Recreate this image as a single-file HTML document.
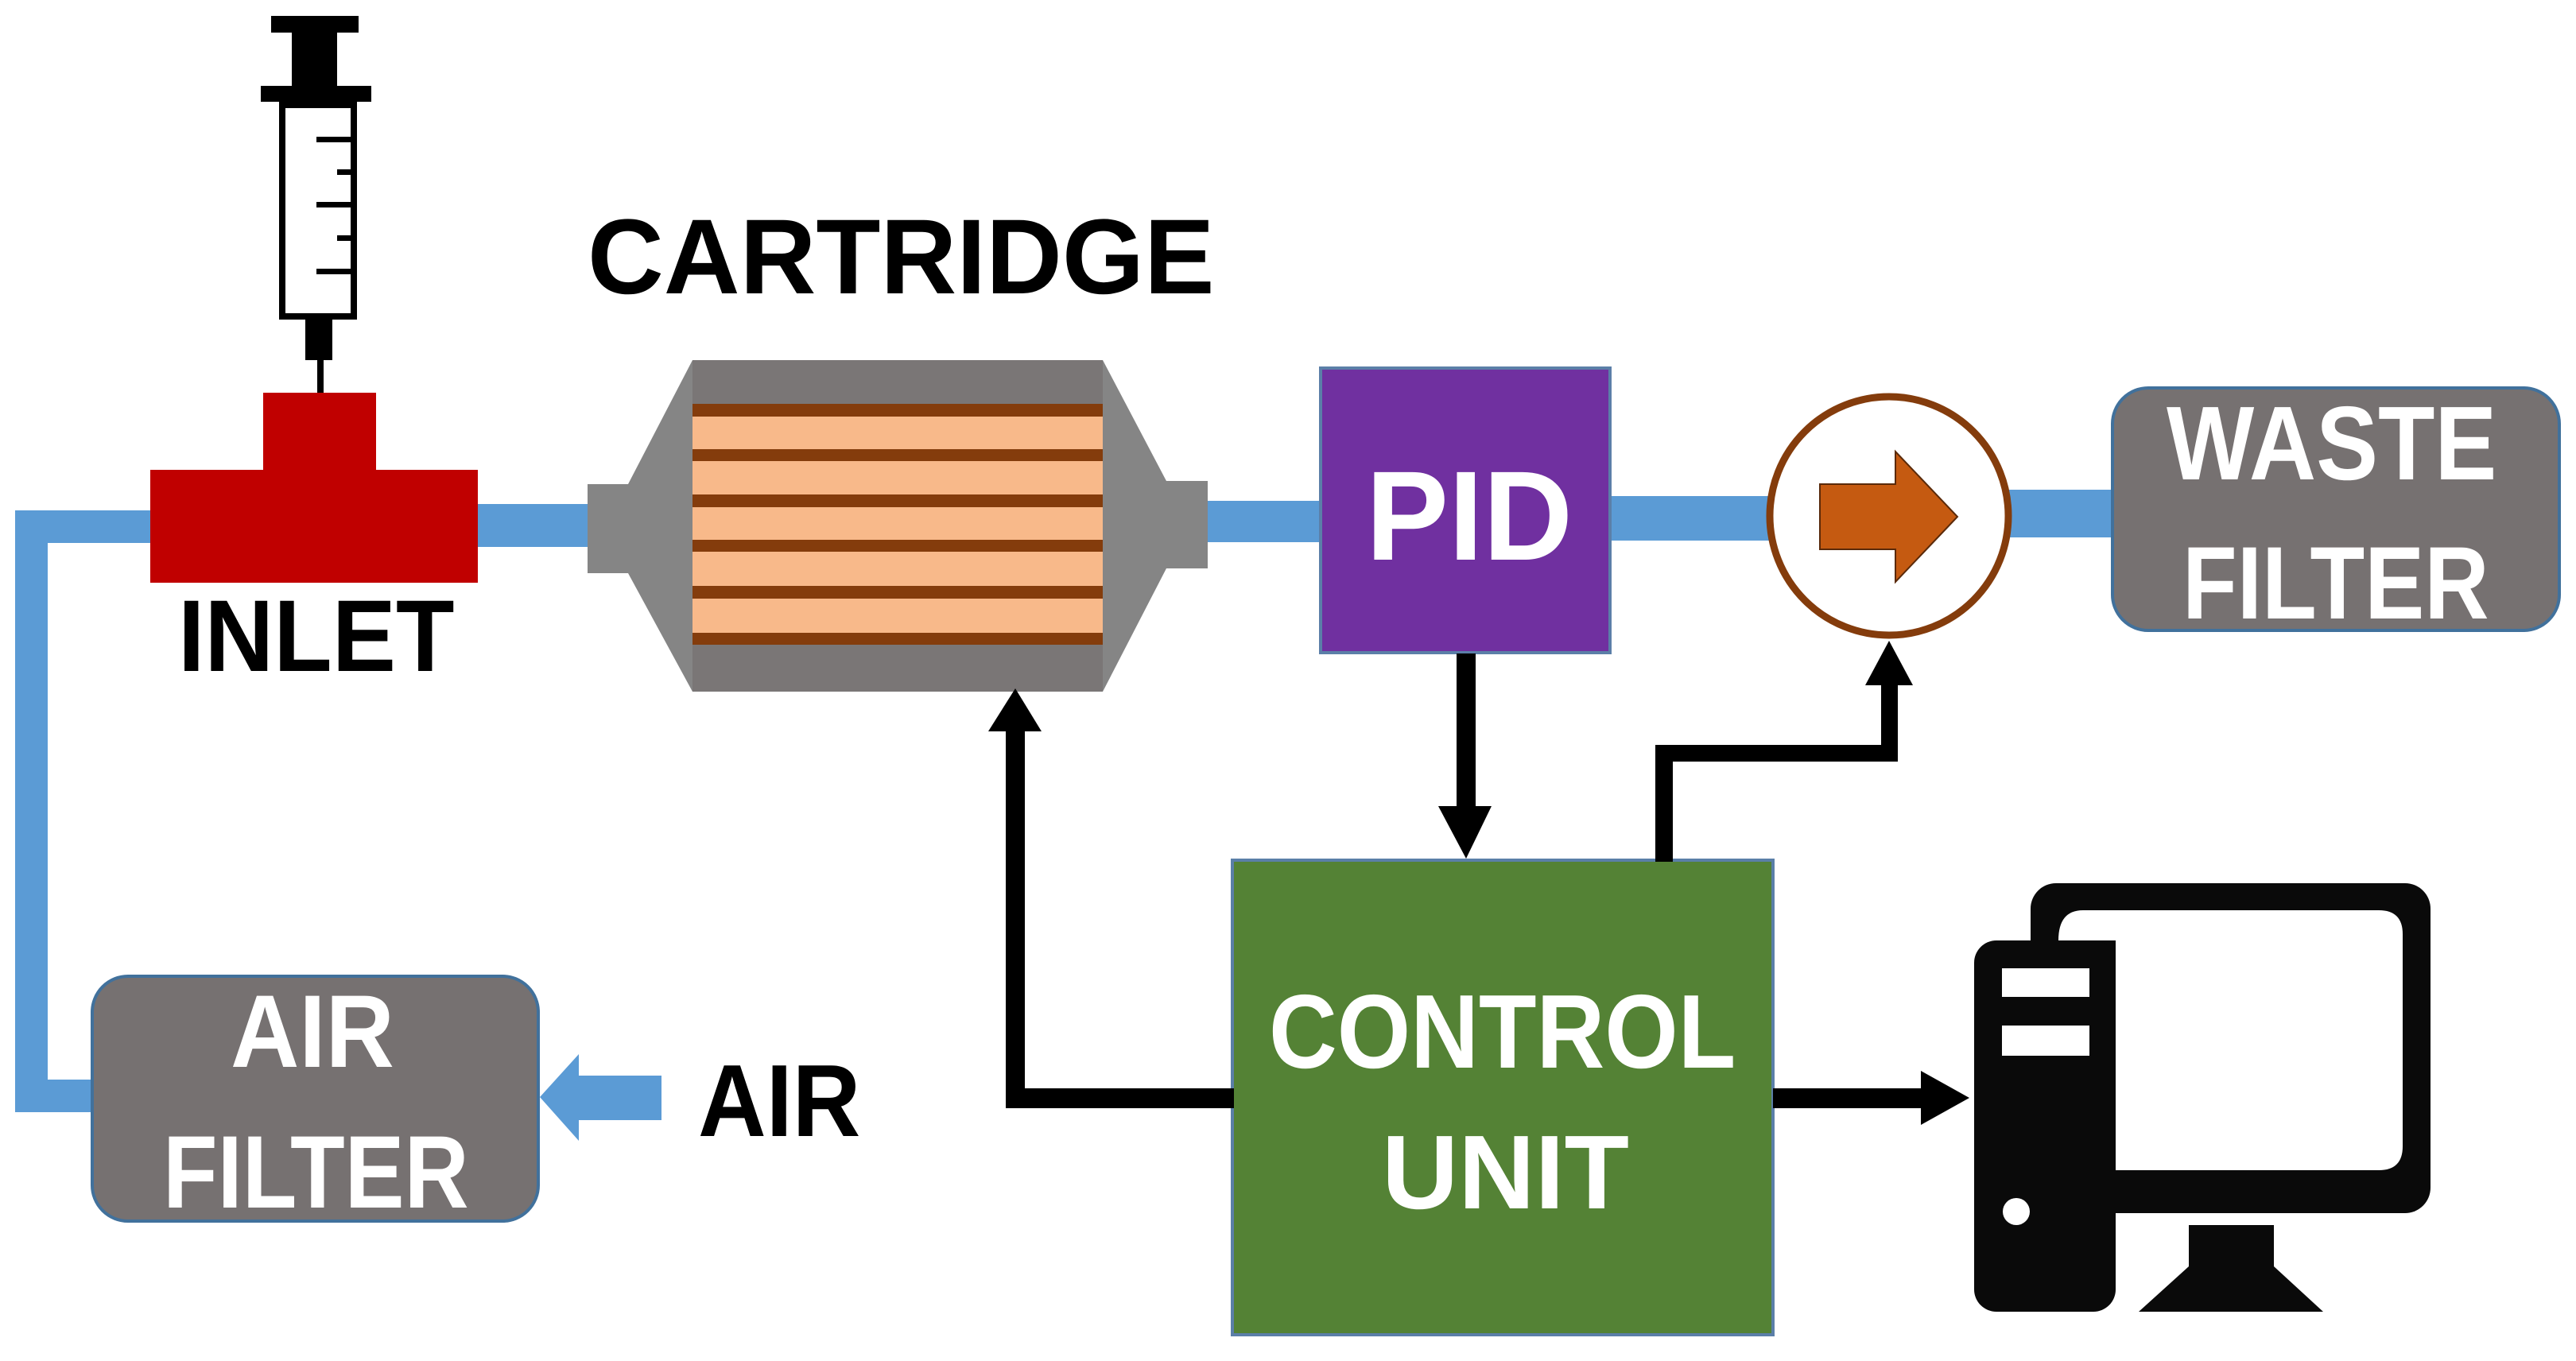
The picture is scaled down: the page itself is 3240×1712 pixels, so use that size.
<!DOCTYPE html>
<html><head><meta charset="utf-8"><style>html,body{margin:0;padding:0;background:#fff;}svg{display:block}</style></head>
<body>
<svg width="3240" height="1712" viewBox="0 0 3240 1712" xmlns="http://www.w3.org/2000/svg" font-family="Liberation Sans, sans-serif" font-weight="bold">
<!-- blue pipes -->
<g fill="#5b9bd5">
<rect x="19" y="642" width="41" height="757"/>
<rect x="19" y="642" width="175" height="41"/>
<rect x="19" y="1358" width="100" height="41"/>
<rect x="595" y="634" width="150" height="54"/>
<rect x="1515" y="630" width="150" height="52"/>
<rect x="2020" y="624" width="210" height="56"/>
<rect x="2525" y="616" width="135" height="60"/>
<polygon points="832,1353 728,1353 728,1326 679,1380 728,1435 728,1409 832,1409"/>
</g>
<!-- syringe -->
<g fill="#000">
<rect x="341" y="20" width="110" height="21"/>
<rect x="367" y="40" width="57" height="70"/>
<rect x="328" y="108" width="139" height="20"/>
<rect x="384" y="397" width="34" height="56"/>
<rect x="399" y="451" width="8" height="45"/>
<rect x="398" y="172" width="46" height="7"/>
<rect x="424" y="213" width="20" height="7"/>
<rect x="398" y="254" width="46" height="7"/>
<rect x="424" y="296" width="20" height="7"/>
<rect x="398" y="338" width="46" height="7"/>
</g>
<rect x="355" y="132" width="90" height="266" fill="none" stroke="#000" stroke-width="8"/>
<!-- inlet -->
<path d="M331 494H473V591H601V733H189V591H331Z" fill="#c00000"/>
<text transform="translate(224,844) scale(0.94,1)" font-size="128">INLET</text>
<!-- cartridge -->
<text transform="translate(739,369) scale(0.99,1)" font-size="134">CARTRIDGE</text>
<polygon points="871,453 1387,453 1467,605 1519,605 1519,715 1467,715 1387,870 871,870 790,721 739,721 739,609 790,609" fill="#858585"/>
<rect x="871" y="453" width="516" height="417" fill="#7a7676"/>
<rect x="871" y="508" width="516" height="303" fill="#f8b98a"/>
<g fill="#843c0c">
<rect x="871" y="508" width="516" height="16"/>
<rect x="871" y="565" width="516" height="15"/>
<rect x="871" y="622" width="516" height="16"/>
<rect x="871" y="679" width="516" height="15"/>
<rect x="871" y="737" width="516" height="16"/>
<rect x="871" y="796" width="516" height="15"/>
</g>
<!-- PID -->
<rect x="1661" y="463" width="364" height="358" fill="#7030a0" stroke="#5b7fa8" stroke-width="4"/>
<text transform="translate(1718,704) scale(0.975,1)" font-size="160" fill="#fff">PID</text>
<!-- pump -->
<circle cx="2376" cy="649" r="150" fill="#fff" stroke="#843c0c" stroke-width="9"/>
<polygon points="2289,609 2384,609 2384,568 2462,650 2384,732 2384,691 2289,691" fill="#c55a11" stroke="#5a2a0a" stroke-width="2"/>
<!-- waste filter -->
<rect x="2657" y="488" width="562" height="305" rx="45" fill="#767171" stroke="#41719c" stroke-width="4"/>
<text transform="translate(2725,603) scale(0.885,1)" font-size="132" fill="#fff">WASTE</text>
<text transform="translate(2745,778) scale(0.866,1)" font-size="130" fill="#fff">FILTER</text>
<!-- air filter -->
<rect x="116" y="1228" width="561" height="308" rx="45" fill="#767171" stroke="#41719c" stroke-width="4"/>
<text transform="translate(290,1342) scale(0.92,1)" font-size="130" fill="#fff">AIR</text>
<text transform="translate(205,1519) scale(0.864,1)" font-size="130" fill="#fff">FILTER</text>
<text transform="translate(878,1429) scale(0.92,1)" font-size="129">AIR</text>
<!-- control unit -->
<rect x="1550" y="1082" width="680" height="597" fill="#548235" stroke="#5b7fa8" stroke-width="4"/>
<text transform="translate(1596,1343) scale(0.9,1)" font-size="132" fill="#fff">CONTROL</text>
<text transform="translate(1738,1520) scale(1.01,1)" font-size="132" fill="#fff">UNIT</text>
<!-- black connectors -->
<g fill="#000">
<rect x="1265" y="915" width="24" height="479"/>
<rect x="1265" y="1369" width="287" height="25"/>
<polygon points="1277,866 1243,920 1310,920"/>
<rect x="1832" y="822" width="24" height="195"/>
<polygon points="1809,1014 1876,1014 1844,1080"/>
<rect x="2082" y="937" width="22" height="147"/>
<rect x="2082" y="937" width="305" height="21"/>
<rect x="2366" y="855" width="21" height="100"/>
<polygon points="2376,806 2346,862 2406,862"/>
<rect x="2230" y="1369" width="190" height="25"/>
<polygon points="2416,1347 2477,1381 2416,1415"/>
</g>
<!-- computer -->
<g fill="#0a0a0a">
<rect x="2554" y="1111" width="503" height="415" rx="32"/>
<rect x="2483" y="1183" width="178" height="467" rx="28"/>
<path d="M2753 1541H2860V1593L2922 1650H2690L2753 1593Z"/>
</g>
<path d="M2620 1145H2992Q3022 1145 3022 1175V1442Q3022 1472 2992 1472H2661V1183H2589Q2589 1145 2620 1145Z" fill="#fff"/>
<rect x="2518" y="1218" width="110" height="36" fill="#fff"/>
<rect x="2518" y="1290" width="110" height="38" fill="#fff"/>
<circle cx="2536" cy="1524" r="17" fill="#fff"/>
</svg>
</body></html>
